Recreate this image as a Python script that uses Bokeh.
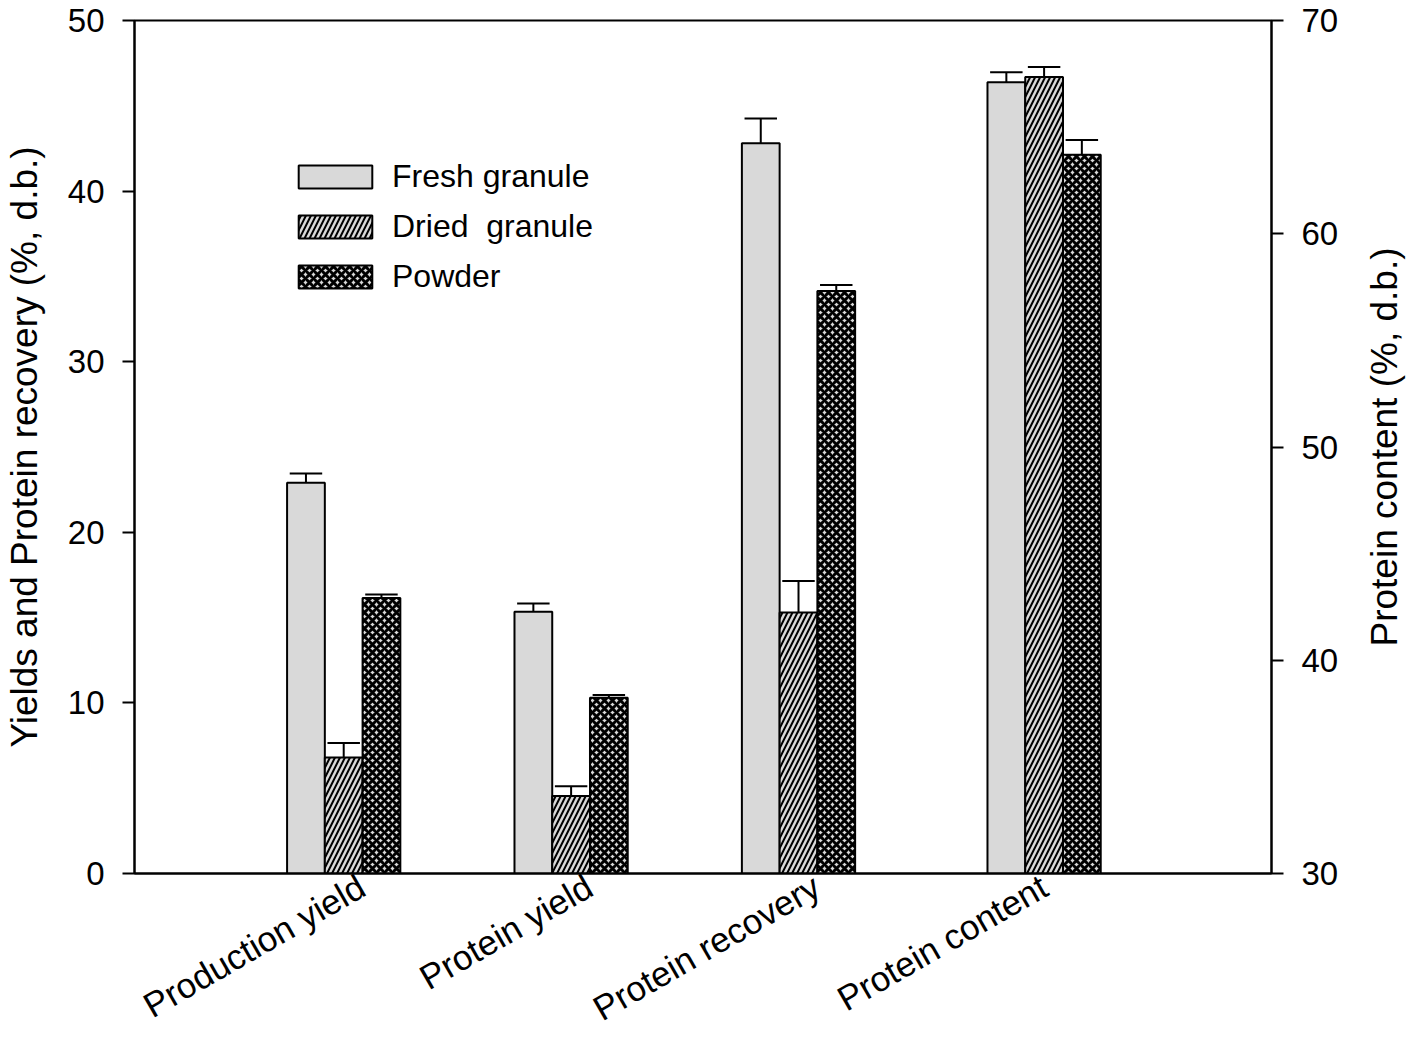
import numpy as np
from bokeh.plotting import figure
from bokeh.layouts import row
from bokeh.models import Range1d, LinearAxis, FixedTicker, Legend, LegendItem, ColumnDataSource
from bokeh.embed import file_html
from bokeh.resources import INLINE

# ---------------- data ----------------
categories = ["Production yield", "Protein yield", "Protein recovery", "Protein content"]
series = ["Fresh granule", "Dried  granule", "Powder"]
label_pos = [1, 2, 3, 4]
group_pos = [0.92, 1.92, 2.92, 4.0]

# left axis: production yield, protein yield, protein recovery
fresh = [22.9, 15.35, 42.8]
fresh_err = [0.55, 0.47, 1.45]
dried = [6.8, 4.55, 15.3]
dried_err = [0.85, 0.57, 1.85]
powder = [16.15, 10.3, 34.15]
powder_err = [0.2, 0.17, 0.35]

# right axis: protein content (fresh, dried, powder)
content = [67.1, 67.35, 63.7]
content_err = [0.47, 0.47, 0.7]

left_ticks = [0, 10, 20, 30, 40, 50]
right_ticks = [30, 40, 50, 60, 70]

# ---------------- figure ----------------
FONT = "Liberation Sans"
bw = 0.166
offsets = [-bw, 0.0, bw]
hatches = [" ", "/", "x"]
hscale = [8, 10, 8]
hweight = [1, 2.0, 3.0]
FILL = "#d9d9d9"

p = figure(width=1342, height=1047, x_range=Range1d(0, 5), y_range=Range1d(0, 50),
           output_backend="svg", toolbar_location=None,
           x_axis_location=None, y_axis_location=None,
           min_border_left=134, min_border_right=71, min_border_top=20, min_border_bottom=174)
p.extra_y_ranges = {"right": Range1d(30, 70)}
p.grid.visible = False
p.outline_line_color = "black"
p.outline_line_width = 2
p.background_fill_color = "white"
p.border_fill_color = "white"

left_vals = [fresh, dried, powder]
left_errs = [fresh_err, dried_err, powder_err]

items = []
for i, name in enumerate(series):
    xs = [g + offsets[i] for g in group_pos[:3]]
    src = ColumnDataSource(dict(x=xs, top=left_vals[i]))
    r = p.vbar(x="x", top="top", bottom=0, width=bw, source=src,
               fill_color=FILL, line_color="black", line_width=2,
               hatch_pattern=hatches[i], hatch_color="black",
               hatch_scale=hscale[i], hatch_weight=hweight[i])
    # right-axis bar
    src2 = ColumnDataSource(dict(x=[group_pos[3] + offsets[i]], top=[content[i]]))
    p.vbar(x="x", top="top", bottom=30, width=bw, source=src2, y_range_name="right",
           fill_color=FILL, line_color="black", line_width=2,
           hatch_pattern=hatches[i], hatch_color="black",
           hatch_scale=hscale[i], hatch_weight=hweight[i])
    items.append(LegendItem(label=name, renderers=[r]))

    # error bars (upper only)
    cap = bw * 0.43
    tops = left_vals[i]
    ups = [t + e for t, e in zip(tops, left_errs[i])]
    p.segment(x0=xs, y0=tops, x1=xs, y1=ups, line_color="black", line_width=2)
    p.segment(x0=[x - cap for x in xs], y0=ups, x1=[x + cap for x in xs], y1=ups,
              line_color="black", line_width=2)
    xr = [group_pos[3] + offsets[i]]
    up_r = [content[i] + content_err[i]]
    p.segment(x0=xr, y0=[content[i]], x1=xr, y1=up_r, line_color="black", line_width=2,
              y_range_name="right")
    p.segment(x0=[xr[0] - cap], y0=up_r, x1=[xr[0] + cap], y1=up_r, line_color="black",
              line_width=2, y_range_name="right")

# ---------------- axes ----------------
xaxis = LinearAxis(ticker=FixedTicker(ticks=label_pos),
                   major_label_overrides={k: c for k, c in zip(label_pos, categories)})
xaxis.major_label_orientation = np.pi / 6
xaxis.major_tick_line_color = None
xaxis.minor_tick_line_color = None
xaxis.axis_line_color = "black"
xaxis.axis_line_width = 2
xaxis.major_label_text_font = FONT
xaxis.major_label_text_font_size = "35px"
xaxis.major_label_text_color = "black"
xaxis.major_label_standoff = 4
p.add_layout(xaxis, "below")

def style_y(ax):
    ax.minor_tick_line_color = None
    ax.major_tick_in = 0
    ax.major_tick_out = 12
    ax.major_tick_line_width = 2
    ax.axis_line_width = 2
    ax.major_label_text_font = FONT
    ax.major_label_text_font_size = "33px"
    ax.major_label_text_color = "black"
    ax.major_label_standoff = 18
    ax.axis_label_text_font = FONT
    ax.axis_label_text_font_size = "37px"
    ax.axis_label_text_font_style = "normal"
    ax.axis_label_text_color = "black"

yaxis = LinearAxis(ticker=FixedTicker(ticks=left_ticks),
                   axis_label="Yields and Protein recovery (%, d.b.)")
style_y(yaxis)
yaxis.axis_label_standoff = 20
p.add_layout(yaxis, "left")

raxis = LinearAxis(y_range_name="right", ticker=FixedTicker(ticks=right_ticks))
style_y(raxis)
p.add_layout(raxis, "right")

# ---------------- legend ----------------
legend = Legend(items=items, location=(155, 578), glyph_width=92, glyph_height=29,
                label_standoff=11, label_text_font=FONT, label_text_font_size="32px",
                label_text_color="black",
                label_height=23, spacing=13, padding=0, margin=0,
                border_line_alpha=0, background_fill_alpha=0)
p.add_layout(legend)

# ---------------- right-hand title (reads bottom-to-top) ----------------
p2 = figure(width=72, height=1047, x_range=Range1d(0, 1), y_range=Range1d(30, 70),
            output_backend="svg", toolbar_location=None,
            x_axis_location=None, y_axis_location=None,
            min_border_left=66, min_border_right=0, min_border_top=20, min_border_bottom=174)
p2.grid.visible = False
p2.outline_line_color = None
p2.background_fill_color = "white"
p2.border_fill_color = "white"
ax2 = LinearAxis(ticker=FixedTicker(ticks=[]), axis_label="Protein content (%, d.b.)")
style_y(ax2)
ax2.axis_line_color = None
ax2.major_tick_line_color = None
ax2.major_tick_out = 0
ax2.major_label_standoff = 0
ax2.axis_label_standoff = 4
p2.add_layout(ax2, "left")

layout = row(p, p2, spacing=0)
open("out.html", "w").write(file_html(layout, INLINE))
